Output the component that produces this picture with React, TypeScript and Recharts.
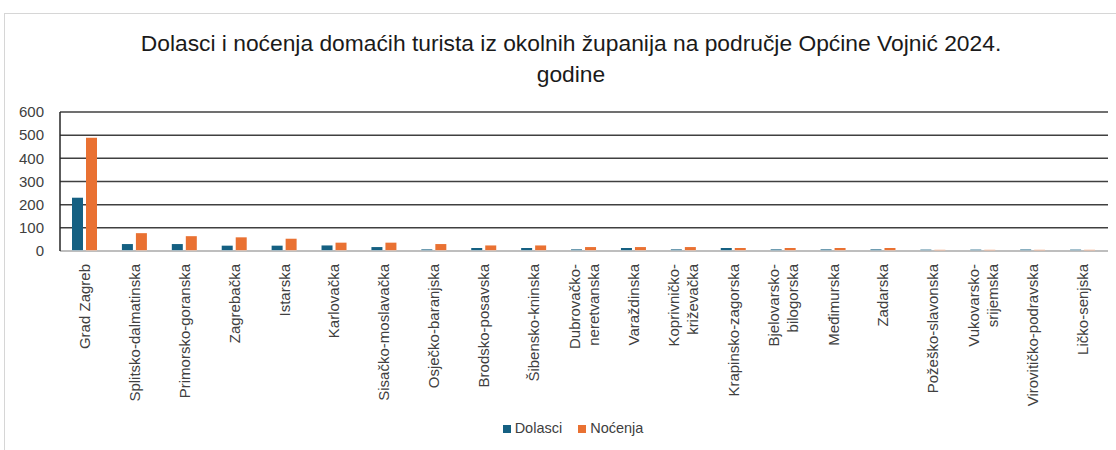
import React from "react";
import { BarChart, Bar, XAxis, YAxis, CartesianGrid, Legend } from "recharts";

const categories = [
  "Grad Zagreb",
  "Splitsko-dalmatinska",
  "Primorsko-goranska",
  "Zagrebačka",
  "Istarska",
  "Karlovačka",
  "Sisačko-moslavačka",
  "Osječko-baranjska",
  "Brodsko-posavska",
  "Šibensko-kninska",
  "Dubrovačko-\nneretvanska",
  "Varaždinska",
  "Koprivničko-\nkriževačka",
  "Krapinsko-zagorska",
  "Bjelovarsko-\nbilogorska",
  "Međimurska",
  "Zadarska",
  "Požeško-slavonska",
  "Vukovarsko-\nsrijemska",
  "Virovitičko-podravska",
  "Ličko-senjska",
];

const dolasci = [230, 30, 30, 23, 23, 24, 17, 7, 13, 13, 7, 13, 7, 13, 7, 7, 7, 6, 6, 6, 6];
const nocenja = [489, 77, 64, 59, 53, 36, 36, 30, 24, 24, 17, 17, 17, 13, 13, 13, 13, 5, 5, 5, 5];

const yTicks = [0, 100, 200, 300, 400, 500, 600];

const seriesNames = ["Dolasci", "Noćenja"];
const seriesColors = ["#156082", "#E97132"];

const titleLines = [
  "Dolasci i noćenja domaćih turista iz okolnih županija na područje Općine Vojnić 2024.",
  "godine",
];

const data = categories.map((c, i) => ({
  name: c,
  [seriesNames[0]]: dolasci[i],
  [seriesNames[1]]: nocenja[i],
}));

const FONT = "'Liberation Sans', Arial, sans-serif";
const TEXT = "#404040";

const XTick = (props: any) => {
  const { x, y, payload } = props;
  const lines = String(payload.value).split("\n");
  const lh = 19;
  const ty = y + 11;
  return (
    <text
      transform={`rotate(-90, ${x}, ${ty})`}
      x={x}
      y={ty}
      textAnchor="end"
      fontSize={15}
      fill={TEXT}
      fontFamily={FONT}
    >
      {lines.map((l, i) => (
        <tspan key={i} x={x} dy={i === 0 ? -((lines.length - 1) * lh) / 2 + 5 : lh}>
          {l}
        </tspan>
      ))}
    </text>
  );
};

export default function App() {
  return (
    <div
      style={{
        position: "absolute",
        left: 0,
        top: 0,
        width: 1116,
        height: 450,
        background: "#fff",
        overflow: "hidden",
      }}
    >
      <div
        style={{
          position: "absolute",
          left: 4,
          top: 13,
          width: 1112,
          height: 437,
          borderLeft: "1px solid #d6d6d6",
          borderTop: "1px solid #d6d6d6",
        }}
      />
      <div
        style={{
          position: "absolute",
          left: 0,
          top: 28,
          width: 1142,
          textAlign: "center",
          fontFamily: "'Liberation Sans', Arial, sans-serif",
          fontSize: 22.8,
          lineHeight: "31px",
          color: "#1a1a1a",
        }}
      >
        {titleLines.map((t, i) => (
          <div key={i}>{t}</div>
        ))}
      </div>
      <div style={{ position: "absolute", left: 0, top: 0 }}>
        <BarChart
          width={1116}
          height={450}
          data={data}
          margin={{ top: 112, right: 8, left: 0, bottom: 6 }}
          barSize={11}
          barGap={3}
        >
          <CartesianGrid vertical={false} stroke="#404040" strokeWidth={1.5} />
          <XAxis
            dataKey="name"
            interval={0}
            height={169}
            tickLine={false}
            tickSize={0}
            axisLine={{ stroke: "#d9d9d9", strokeWidth: 1.5 }}
            tick={<XTick />}
          />
          <YAxis
            domain={[0, 600]}
            ticks={yTicks}
            width={60}
            tickSize={0}
            tickMargin={16}
            tickLine={false}
            axisLine={{ stroke: "#262626", strokeWidth: 1.5 }}
            tick={{ fontSize: 15, fill: TEXT, fontFamily: FONT }}
          />
          <YAxis
            yAxisId="right"
            orientation="right"
            domain={[0, 600]}
            width={0}
            tick={false}
            tickLine={false}
            axisLine={{ stroke: "#262626", strokeWidth: 1.5 }}
          />
          <Legend
            verticalAlign="bottom"
            align="center"
            height={24}
            iconType="square"
            iconSize={8}
            wrapperStyle={{ fontFamily: FONT, fontSize: 14.5, left: 27 }}
            formatter={(v: any) => (
              <span style={{ color: TEXT, marginRight: 6 }}>{v}</span>
            )}
          />
          {seriesNames.map((s, i) => (
            <Bar key={s} dataKey={s} fill={seriesColors[i]} isAnimationActive={false} />
          ))}
        </BarChart>
      </div>
    </div>
  );
}
